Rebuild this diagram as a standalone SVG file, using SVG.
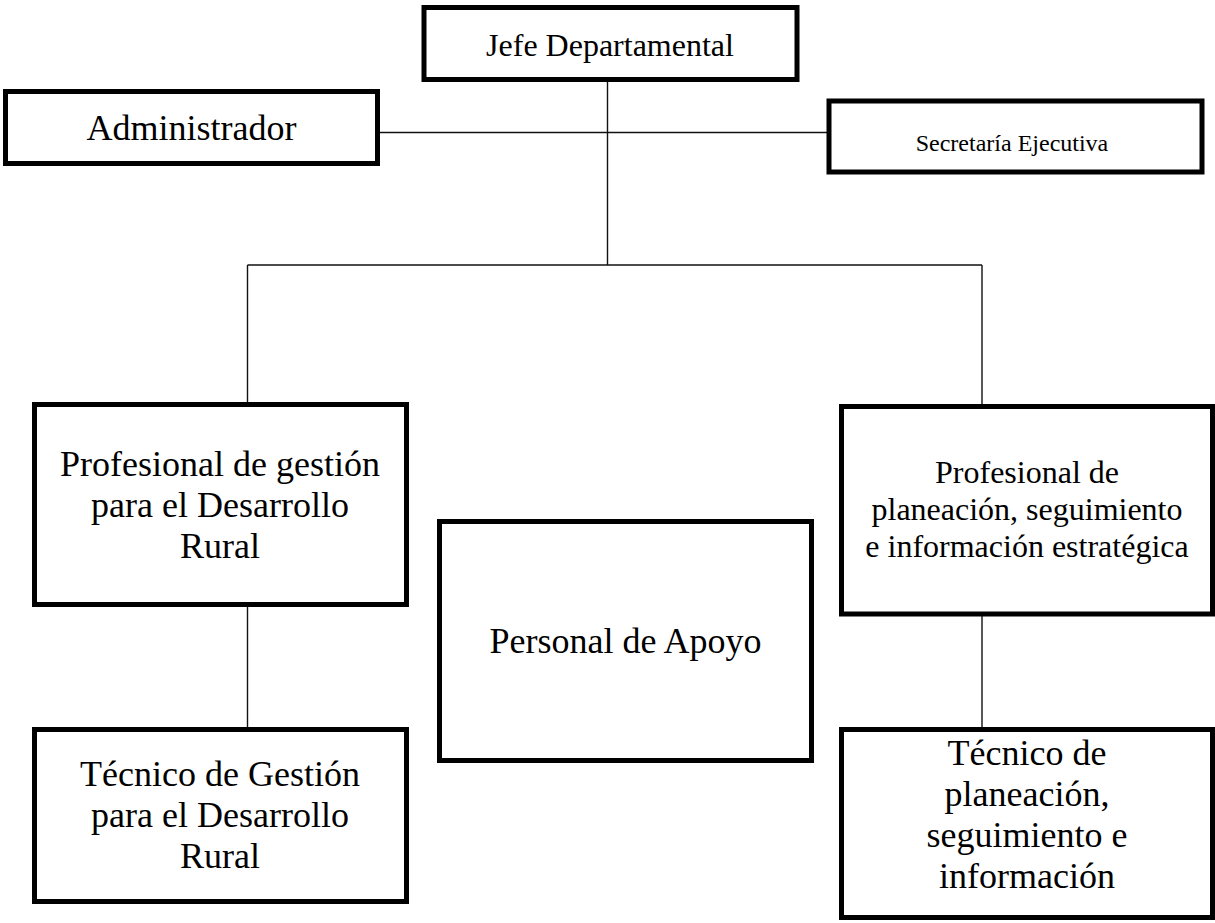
<svg xmlns="http://www.w3.org/2000/svg" width="1215" height="923" viewBox="0 0 1215 923">
<style>
.box{fill:#fff;stroke:#000;stroke-width:5}
.t{font-family:"Liberation Serif","Times New Roman",serif;fill:#000;text-anchor:middle}
.big{font-size:36px}
.mid{font-size:32px}
.sm{font-size:24px}
.ln{stroke:#111;stroke-width:1.4;fill:none}
</style>
<rect width="1215" height="923" fill="#fff"/>
<g id="connectors">
<line class="ln" x1="607.5" y1="82" x2="607.5" y2="265"/>
<line class="ln" x1="380" y1="132.5" x2="827" y2="132.5"/>
<line class="ln" x1="247.5" y1="265" x2="982" y2="265"/>
<line class="ln" x1="247.5" y1="265" x2="247.5" y2="404"/>
<line class="ln" x1="982" y1="265" x2="982" y2="406"/>
<line class="ln" x1="247.5" y1="605" x2="247.5" y2="729"/>
<line class="ln" x1="982" y1="614" x2="982" y2="729"/>
</g>
<g id="jefe">
<rect class="box" x="424" y="7.5" width="373" height="72"/>
<text class="t mid" x="610" y="56">Jefe Departamental</text>
</g>
<g id="administrador">
<rect class="box" x="5.5" y="91.5" width="372" height="72"/>
<text class="t big" x="191.5" y="140">Administrador</text>
</g>
<g id="secretaria">
<rect class="box" x="829" y="101" width="373" height="71"/>
<text class="t sm" x="1012" y="151">Secretaría Ejecutiva</text>
</g>
<g id="prof-gestion">
<rect class="box" x="34.5" y="404.5" width="372" height="200"/>
<text class="t big" x="220" y="476">Profesional de gestión</text>
<text class="t big" x="220" y="517">para el Desarrollo</text>
<text class="t big" x="220" y="558">Rural</text>
</g>
<g id="tec-gestion">
<rect class="box" x="34.5" y="729.5" width="372" height="172"/>
<text class="t big" x="220" y="786">Técnico de Gestión</text>
<text class="t big" x="220" y="827">para el Desarrollo</text>
<text class="t big" x="220" y="868">Rural</text>
</g>
<g id="personal-apoyo">
<rect class="box" x="439.5" y="521.5" width="372" height="239"/>
<text class="t big" x="625.5" y="653">Personal de Apoyo</text>
</g>
<g id="prof-planeacion">
<rect class="box" x="841.5" y="406.5" width="371" height="207.5"/>
<text class="t mid" x="1027" y="483">Profesional de</text>
<text class="t mid" x="1027" y="520">planeación, seguimiento</text>
<text class="t mid" x="1027" y="557">e información estratégica</text>
</g>
<g id="tec-planeacion">
<rect class="box" x="841.5" y="729.5" width="371" height="188"/>
<text class="t big" x="1027" y="765">Técnico de</text>
<text class="t big" x="1027" y="806">planeación,</text>
<text class="t big" x="1027" y="847">seguimiento e</text>
<text class="t big" x="1027" y="888">información</text>
</g>
</svg>
